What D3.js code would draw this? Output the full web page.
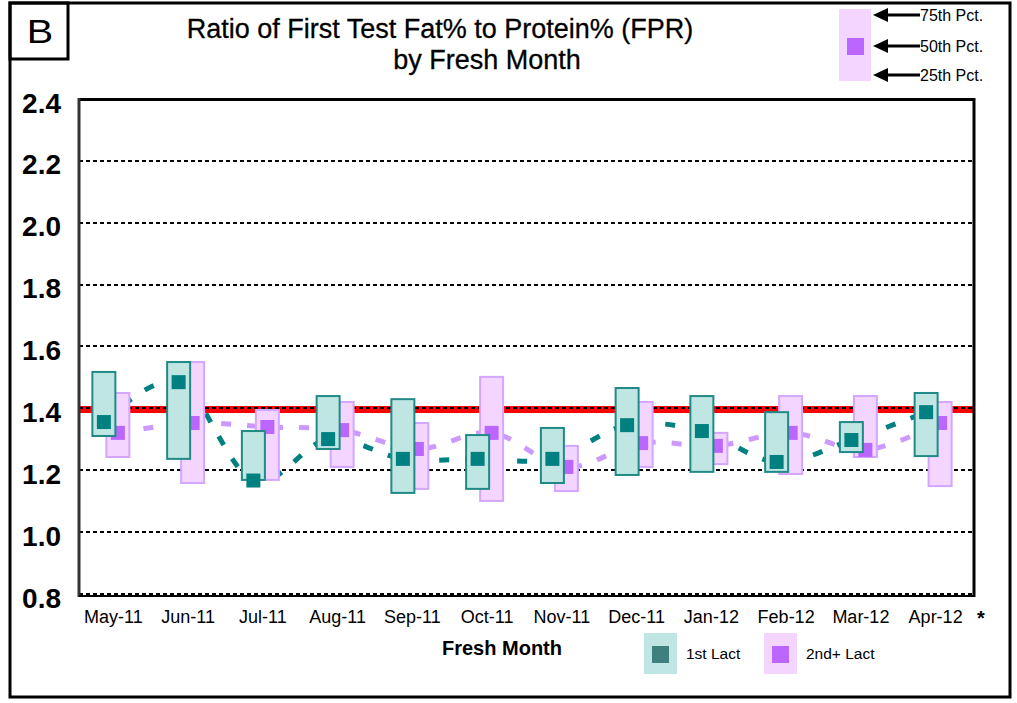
<!DOCTYPE html>
<html>
<head>
<meta charset="utf-8">
<title>FPR by Fresh Month</title>
<script src="https://d3js.org/d3.v7.min.js"></script>
<style>
body { margin: 0; background: #fff; }
svg text { font-family: "Liberation Sans", Arial, sans-serif; fill: #000; }
.ytick text { font-size: 28px; font-weight: bold; }
.xtick text { font-size: 18px; }
</style>
</head>
<body>
<div id="chart"></div>
<script>
var months = ["May-11","Jun-11","Jul-11","Aug-11","Sep-11","Oct-11","Nov-11","Dec-11","Jan-12","Feb-12","Mar-12","Apr-12"];
var yTicks = [0.8, 1.0, 1.2, 1.4, 1.6, 1.8, 2.0, 2.2, 2.4];
var target = 1.4;

// 1st lactation: 25th, 50th, 75th percentile
var first25 = [1.314, 1.240, 1.172, 1.272, 1.130, 1.143, 1.162, 1.188, 1.198, 1.198, 1.262, 1.249];
var first50 = [1.359, 1.488, 1.170, 1.304, 1.240, 1.240, 1.240, 1.349, 1.330, 1.230, 1.301, 1.391];
var first75 = [1.521, 1.553, 1.330, 1.443, 1.433, 1.317, 1.340, 1.469, 1.443, 1.391, 1.359, 1.453];

// 2nd+ lactation
var second25 = [1.246, 1.162, 1.172, 1.214, 1.143, 1.104, 1.136, 1.214, 1.223, 1.191, 1.246, 1.152];
var second50 = [1.324, 1.356, 1.343, 1.333, 1.272, 1.324, 1.214, 1.291, 1.282, 1.324, 1.269, 1.356];
var second75 = [1.453, 1.553, 1.398, 1.424, 1.356, 1.505, 1.282, 1.424, 1.324, 1.443, 1.443, 1.424];

var W = 1017, H = 703;
var plot = { left: 79, right: 974, top: 100, bottom: 595 };

var tealFill = "#c0e6e4", tealStroke = "#1f8a86", tealDark = "#008080";
var purpFill = "#f3d5ff", purpStroke = "#d4a6ff", purpDark = "#bb66ff", purpLine = "#cc99ff";

var svg = d3.select("#chart").append("svg")
  .attr("width", W)
  .attr("height", H);

var x = d3.scaleBand()
  .domain(months)
  .range([80, 977]);

var y = d3.scaleLinear()
  .domain([0.8, 2.4])
  .range([plot.bottom, plot.top]);

var boxW = 23, medS = 14;
var off1 = -13.5, off2 = 0.5;
function cx1(i) { return x(months[i]) + x.bandwidth() / 2 + off1; }
function cx2(i) { return x(months[i]) + x.bandwidth() / 2 + off2; }

// outer frame and panel letter box
svg.append("rect")
  .attr("x", 10).attr("y", 3).attr("width", 1000).attr("height", 694)
  .attr("fill", "none").attr("stroke", "#000").attr("stroke-width", 3);
svg.append("rect")
  .attr("x", 10).attr("y", 3).attr("width", 58).attr("height", 56)
  .attr("fill", "none").attr("stroke", "#000").attr("stroke-width", 3);
svg.append("text")
  .attr("x", 40).attr("y", 43)
  .attr("text-anchor", "middle")
  .style("font-size", "33px")
  .attr("transform", "translate(40,0) scale(1.2,1) translate(-40,0)")
  .text("B");

// title
svg.append("text")
  .attr("x", 440).attr("y", 38)
  .attr("text-anchor", "middle")
  .style("font-size", "27px")
  .style("stroke", "#000").style("stroke-width", 0.3)
  .text("Ratio of First Test Fat% to Protein% (FPR)");
svg.append("text")
  .attr("x", 487).attr("y", 69)
  .attr("text-anchor", "middle")
  .style("font-size", "27px")
  .style("stroke", "#000").style("stroke-width", 0.3)
  .text("by Fresh Month");

// red target line
svg.append("line")
  .attr("x1", plot.left).attr("x2", plot.right)
  .attr("y1", y(target)).attr("y2", y(target))
  .attr("stroke", "#ff0000").attr("stroke-width", 7);

// gridlines
svg.append("g")
  .selectAll("line")
  .data(yTicks)
  .enter().append("line")
    .attr("x1", plot.left).attr("x2", plot.right)
    .attr("y1", function(d) { return Math.round(y(d)) - 1; })
    .attr("y2", function(d) { return Math.round(y(d)) - 1; })
    .attr("stroke", "#000")
    .attr("stroke-width", 2)
    .attr("stroke-dasharray", "4,3");

// y axis labels
var yAxis = d3.axisLeft(y)
  .tickValues(yTicks)
  .tickSize(0)
  .tickPadding(0)
  .tickFormat(d3.format(".1f"));
svg.append("g")
  .attr("class", "ytick")
  .attr("transform", "translate(61,2)")
  .call(yAxis)
  .call(function(g) { g.select(".domain").remove(); })
  .selectAll("text")
    .attr("dy", "0.36em");

// x axis labels
var xAxis = d3.axisBottom(x)
  .tickSize(0)
  .tickPadding(0)
  .tickFormat(function(d) { return d; });
svg.append("g")
  .attr("class", "xtick")
  .attr("transform", "translate(-4,623)")
  .call(xAxis)
  .call(function(g) { g.select(".domain").remove(); })
  .selectAll("text")
    .attr("dy", "0");
svg.append("text")
  .attr("x", 977).attr("y", 625)
  .style("font-size", "20px")
  .style("font-weight", "bold")
  .text("*");

svg.append("text")
  .attr("x", 502).attr("y", 655)
  .attr("text-anchor", "middle")
  .style("font-size", "20px")
  .style("font-weight", "bold")
  .text("Fresh Month");

// smoothed dashed median lines
var idx = d3.range(months.length);
var line1 = d3.line()
  .x(function(i) { return cx1(i); })
  .y(function(i) { return y(first50[i]); })
  .curve(d3.curveCatmullRom.alpha(0));
var line2 = d3.line()
  .x(function(i) { return cx2(i); })
  .y(function(i) { return y(second50[i]); })
  .curve(d3.curveCatmullRom.alpha(0));

svg.append("path")
  .attr("d", line2(idx))
  .attr("fill", "none")
  .attr("stroke", purpLine)
  .attr("stroke-width", 5)
  .attr("stroke-dasharray", "10,16");

svg.append("path")
  .attr("d", line1(idx))
  .attr("fill", "none")
  .attr("stroke", tealDark)
  .attr("stroke-width", 5)
  .attr("stroke-dasharray", "10,16");

// 2nd+ lact boxes
svg.append("g")
  .selectAll("rect")
  .data(idx)
  .enter().append("rect")
    .attr("x", function(i) { return cx2(i) - boxW / 2; })
    .attr("y", function(i) { return y(second75[i]); })
    .attr("width", boxW)
    .attr("height", function(i) { return y(second25[i]) - y(second75[i]); })
    .attr("fill", purpFill)
    .attr("stroke", purpStroke)
    .attr("stroke-width", 2);

svg.append("g")
  .selectAll("rect")
  .data(idx)
  .enter().append("rect")
    .attr("x", function(i) { return cx2(i) - medS / 2; })
    .attr("y", function(i) { return y(second50[i]) - medS / 2; })
    .attr("width", medS)
    .attr("height", medS)
    .attr("fill", purpDark);

// 1st lact boxes
svg.append("g")
  .selectAll("rect")
  .data(idx)
  .enter().append("rect")
    .attr("x", function(i) { return cx1(i) - boxW / 2; })
    .attr("y", function(i) { return y(first75[i]); })
    .attr("width", boxW)
    .attr("height", function(i) { return y(first25[i]) - y(first75[i]); })
    .attr("fill", tealFill)
    .attr("stroke", tealStroke)
    .attr("stroke-width", 2);

svg.append("g")
  .selectAll("rect")
  .data(idx)
  .enter().append("rect")
    .attr("x", function(i) { return cx1(i) - medS / 2; })
    .attr("y", function(i) { return y(first50[i]) - medS / 2; })
    .attr("width", medS)
    .attr("height", medS)
    .attr("fill", tealDark);

// plot frame
svg.append("line")
  .attr("x1", plot.left - 1).attr("x2", plot.right + 1)
  .attr("y1", 99.5).attr("y2", 99.5)
  .attr("stroke", "#000").attr("stroke-width", 3);
svg.append("line")
  .attr("x1", plot.left).attr("x2", plot.left)
  .attr("y1", 98).attr("y2", 597)
  .attr("stroke", "#333").attr("stroke-width", 3);
svg.append("line")
  .attr("x1", plot.right).attr("x2", plot.right)
  .attr("y1", 98).attr("y2", 597)
  .attr("stroke", "#000").attr("stroke-width", 3);
svg.append("line")
  .attr("x1", plot.left).attr("x2", plot.right)
  .attr("y1", 596).attr("y2", 596)
  .attr("stroke", "#000").attr("stroke-width", 2);

// percentile key (top right)
svg.append("rect")
  .attr("x", 839).attr("y", 9).attr("width", 32).attr("height", 72)
  .attr("fill", purpFill);
svg.append("rect")
  .attr("x", 847).attr("y", 38).attr("width", 17).attr("height", 17)
  .attr("fill", purpDark);
var keyRows = [["75th Pct.", 15], ["50th Pct.", 46], ["25th Pct.", 75]];
keyRows.forEach(function(r) {
  svg.append("line")
    .attr("x1", 884).attr("x2", 920)
    .attr("y1", r[1]).attr("y2", r[1])
    .attr("stroke", "#000").attr("stroke-width", 3);
  svg.append("path")
    .attr("d", "M873," + r[1] + "L888," + (r[1] - 7) + "L888," + (r[1] + 7) + "Z")
    .attr("fill", "#000");
  svg.append("text")
    .attr("x", 920).attr("y", r[1] + 6)
    .style("font-size", "16px")
    .text(r[0]);
});

// series legend (bottom)
var legendItems = [
  { label: "1st Lact", fill: tealFill, dark: "#3f7f7d", x: 644 },
  { label: "2nd+ Lact", fill: purpFill, dark: purpDark, x: 764 }
];
legendItems.forEach(function(d) {
  svg.append("rect")
    .attr("x", d.x).attr("y", 633).attr("width", 33).attr("height", 41)
    .attr("fill", d.fill);
  svg.append("rect")
    .attr("x", d.x + 8).attr("y", 646).attr("width", 17).attr("height", 17)
    .attr("fill", d.dark);
  svg.append("text")
    .attr("x", d.x + 42).attr("y", 659)
    .style("font-size", "15.5px")
    .text(d.label);
});
</script>
</body>
</html>
